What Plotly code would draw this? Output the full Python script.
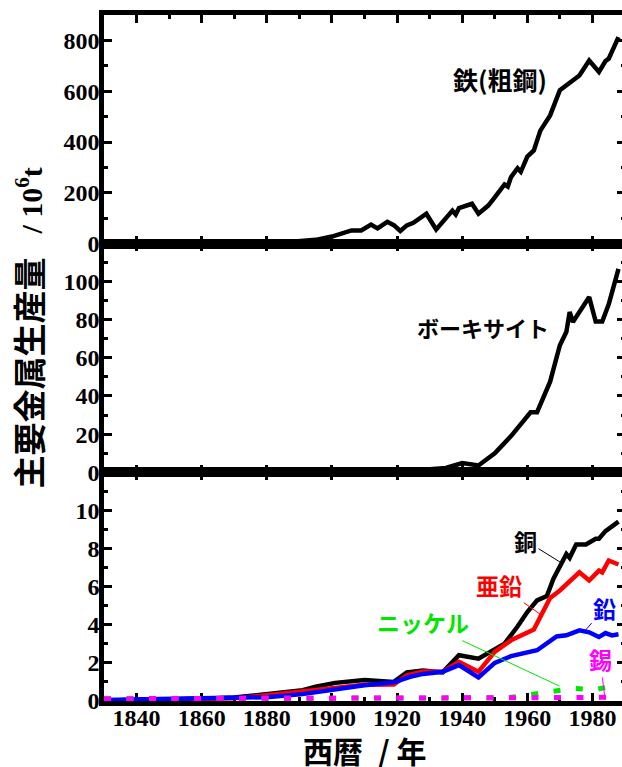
import plotly.graph_objects as go
from plotly.subplots import make_subplots

# ---------------- data (10^6 t) ----------------
steel_years = [1830, 1840, 1850, 1860, 1870, 1875, 1880, 1885, 1890, 1895, 1900, 1903, 1906, 1909,
               1912, 1914, 1917, 1919, 1921, 1923, 1925, 1929, 1932, 1937, 1938, 1939, 1943, 1945,
               1948, 1950, 1953, 1954, 1955, 1957, 1958, 1960, 1962, 1964, 1967, 1970, 1976, 1979,
               1982, 1984, 1985, 1988]
steel_vals = [0, 0, 0.1, 0.3, 0.7, 1.5, 3, 5, 10, 15, 28, 38, 52, 52,
              75, 60, 86, 73, 50, 72, 82, 118, 56, 130, 115, 140, 157, 118,
              150, 182, 233, 225, 262, 297, 283, 343, 367, 445, 505, 604, 662, 721,
              676, 719, 728, 813]

baux_years = [1830, 1890, 1900, 1910, 1920, 1925, 1930, 1935, 1940, 1945, 1950, 1955, 1961, 1963,
              1967, 1970, 1972, 1973, 1974, 1979, 1981, 1983, 1985, 1988]
baux_vals = [0, 0.05, 0.1, 0.3, 0.6, 1.0, 1.9, 2.3, 4.9, 3.6, 10, 19, 31.5, 31.5,
             47.5, 66.6, 73.6, 84, 78.8, 91.8, 79, 79, 88, 106.6]

cu_years = [1830, 1840, 1850, 1860, 1870, 1880, 1891, 1895, 1901, 1910, 1914, 1919, 1923, 1928,
            1934, 1939, 1945, 1950, 1953, 1957, 1960, 1963, 1966, 1968, 1970, 1972, 1973, 1975,
            1978, 1981, 1982, 1984, 1988]
cu_vals = [0.03, 0.05, 0.07, 0.12, 0.18, 0.36, 0.57, 0.75, 0.95, 1.1, 1.05, 1.0, 1.5, 1.6,
           1.5, 2.4, 2.22, 2.7, 3.0, 3.9, 4.66, 5.27, 5.5, 6.4, 7.1, 7.7, 7.5, 8.2,
           8.2, 8.5, 8.5, 8.9, 9.4]

zn_years = [1830, 1840, 1850, 1860, 1870, 1880, 1891, 1901, 1910, 1919, 1923, 1928, 1934, 1939,
            1945, 1950, 1955, 1962, 1967, 1970, 1976, 1979, 1982, 1983, 1985, 1988]
zn_vals = [0.02, 0.04, 0.06, 0.1, 0.15, 0.3, 0.5, 0.7, 0.85, 0.87, 1.35, 1.55, 1.53, 2.05,
           1.53, 2.57, 3.18, 3.75, 5.4, 5.79, 6.74, 6.31, 6.83, 6.74, 7.36, 7.15]

pb_years = [1830, 1840, 1850, 1860, 1870, 1880, 1891, 1901, 1910, 1919, 1924, 1928, 1934, 1939,
            1945, 1950, 1955, 1963, 1969, 1972, 1976, 1979, 1982, 1984, 1986, 1988]
pb_vals = [0.05, 0.07, 0.09, 0.12, 0.15, 0.2, 0.36, 0.6, 0.83, 0.98, 1.27, 1.42, 1.53, 1.88,
           1.24, 2.0, 2.35, 2.66, 3.38, 3.44, 3.7, 3.6, 3.35, 3.56, 3.44, 3.5]

ni_years = [1830, 1900, 1920, 1940, 1950, 1954, 1960, 1967, 1974, 1981, 1988]
ni_vals = [0.12, 0.12, 0.12, 0.13, 0.15, 0.17, 0.31, 0.49, 0.66, 0.6, 0.85]

sn_years = [1830, 1900, 1950, 1960, 1967, 1974, 1981, 1988]
sn_vals = [0.12, 0.12, 0.12, 0.12, 0.14, 0.18, 0.2, 0.2]

x_ticks = [1840, 1860, 1880, 1900, 1920, 1940, 1960, 1980]

# ---------------- figure ----------------
fig = make_subplots(rows=3, cols=1, shared_xaxes=True, vertical_spacing=0)

LW = 4.5
fig.add_trace(go.Scatter(x=steel_years, y=steel_vals, mode="lines",
                         line=dict(color="black", width=LW)), row=1, col=1)
fig.add_trace(go.Scatter(x=baux_years, y=baux_vals, mode="lines",
                         line=dict(color="black", width=LW)), row=2, col=1)
fig.add_trace(go.Scatter(x=cu_years, y=cu_vals, mode="lines",
                         line=dict(color="black", width=LW)), row=3, col=1)
fig.add_trace(go.Scatter(x=zn_years, y=zn_vals, mode="lines",
                         line=dict(color="#ff0000", width=LW)), row=3, col=1)
fig.add_trace(go.Scatter(x=pb_years, y=pb_vals, mode="lines",
                         line=dict(color="#0000ff", width=LW)), row=3, col=1)
fig.add_trace(go.Scatter(x=ni_years, y=ni_vals, mode="lines",
                         line=dict(color="#00e600", width=5, dash="7px,15.5px")), row=3, col=1)
fig.add_trace(go.Scatter(x=sn_years, y=sn_vals, mode="lines",
                         line=dict(color="#ff00ff", width=5, dash="7px,15.5px")), row=3, col=1)

SERIF = "Liberation Serif, Times New Roman, serif"
tickfont = dict(family=SERIF, size=24, color="black", weight="bold")
axis_common = dict(showline=True, linewidth=4.5, linecolor="black", mirror="ticks",
                   ticks="inside", ticklen=8, tickwidth=3, tickcolor="black",
                   showgrid=False, zeroline=False, tickfont=tickfont)

for r in (1, 2, 3):
    fig.update_xaxes(range=[1830, 1990], tickvals=x_ticks,
                     minor=dict(ticks="inside", ticklen=4, tickwidth=3, tickcolor="black",
                                tickvals=[1830 + 10 * i for i in range(17)]),
                     showticklabels=(r == 3), ticklabelstandoff=-9,
                     row=r, col=1, **axis_common)

ymin = dict(ticks="inside", ticklen=4, tickwidth=3, tickcolor="black")
fig.update_yaxes(range=[0, 900], dtick=200, tick0=0, minor=dict(ymin, dtick=100),
                 ticklabelstandoff=-5, row=1, col=1, **axis_common)
fig.update_yaxes(range=[0, 119.8], dtick=20, tick0=0, minor=dict(ymin, dtick=10),
                 ticklabelstandoff=-5, row=2, col=1, **axis_common)
fig.update_yaxes(range=[0, 11.98], dtick=2, tick0=0, minor=dict(ymin, dtick=1),
                 ticklabelstandoff=-5, row=3, col=1, **axis_common)
fig.update_xaxes(layer="below traces", row=3, col=1)
fig.update_yaxes(layer="below traces", row=3, col=1)

CJK = "Noto Sans CJK JP"
lab = dict(family=CJK, size=23, weight="bold")

ann = []
ann.append(dict(x=1951.5, y=647, xref="x", yref="y", text="鉄(粗鋼)", showarrow=False,
                font=dict(lab, size=25, color="black")))
ann.append(dict(x=1946.4, y=76, xref="x2", yref="y2", text="ボーキサイト", showarrow=False,
                font=dict(lab, size=22, color="black")))


def leader(text, color, x, y, ax, ay):
    return dict(x=x, y=y, xref="x3", yref="y3", text=text, showarrow=True, arrowhead=0,
                arrowwidth=1, arrowcolor=color, standoff=0, ax=ax, ay=ay,
                font=dict(lab, color=color))


ann.append(leader("銅", "black", 1970.8, 7.2, -37, -23))
ann.append(leader("亜鉛", "#ff0000", 1964.0, 4.54, -41, -29))
ann.append(leader("鉛", "#0000ff", 1977.3, 3.6, 21, -24))
ann.append(leader("ニッケル", "#00e600", 1969.9, 0.78, -137, -64))
ann.append(leader("錫", "#ff00ff", 1983.9, 0.05, -5, -41))

ann.append(dict(x=-0.1464, y=0.544, xref="paper", yref="paper", textangle=-90,
                xanchor="center", yanchor="middle", showarrow=False,
                text=('主要金属生産量\u2002\u00a0'
                      '<span style="font-family:\'Liberation Serif\';font-size:30px">'
                      '/ 10<sup>6</sup>t</span>'),
                font=dict(family=CJK, size=33, color="black", weight="bold")))
ann.append(dict(x=0.5, y=-0.072, xref="paper", yref="paper", xanchor="center",
                yanchor="middle", showarrow=False, text="西暦\u2002/ 年",
                font=dict(family=CJK, size=30, color="black", weight="bold")))

fig.update_layout(width=640, height=767, margin=dict(l=104, r=10, t=11, b=66),
                  paper_bgcolor="white", plot_bgcolor="white", showlegend=False,
                  annotations=ann)

fig.write_html("out.html", post_script=(
    "document.documentElement.style.overflow='hidden';"
    "document.body.style.overflow='hidden';document.body.style.margin='0';"))
